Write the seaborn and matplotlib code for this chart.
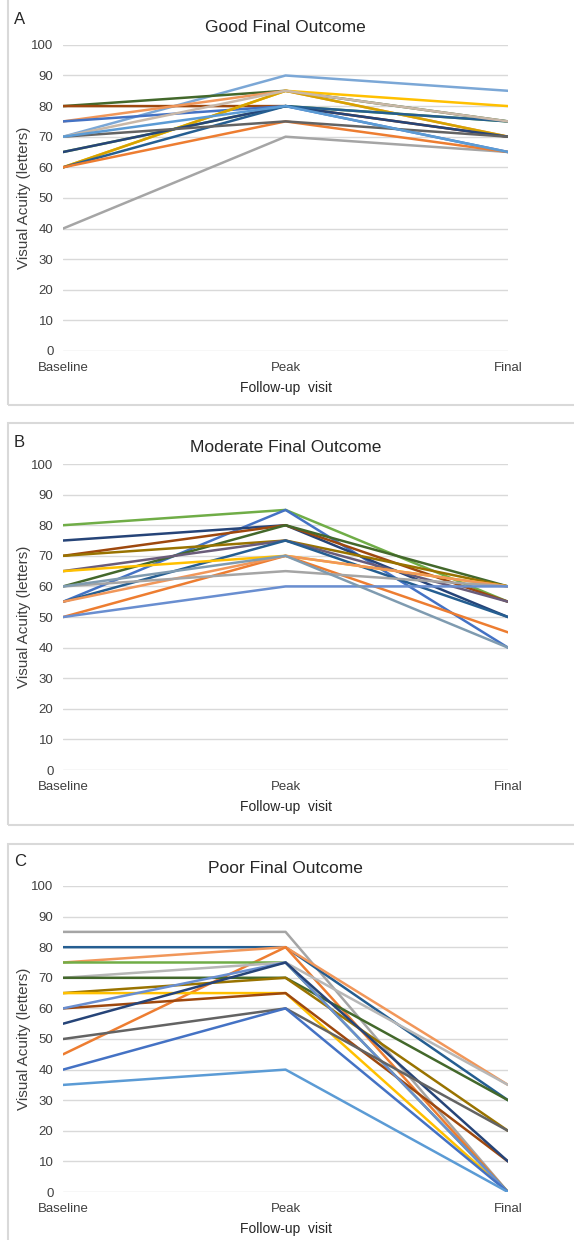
import pandas as pd
import matplotlib.pyplot as plt
import seaborn as sns
from matplotlib.patches import Rectangle

visits = ["Baseline", "Peak", "Final"]

# visual acuity (letters) per eye: baseline, peak, final
good_values = [
    [40, 70, 65], [70, 90, 85], [80, 85, 75], [80, 80, 70], [75, 85, 70],
    [75, 80, 65], [60, 85, 80], [60, 85, 70], [65, 80, 75], [65, 80, 70],
    [60, 80, 75], [60, 75, 65], [70, 75, 70], [70, 85, 75], [70, 80, 65],
]
good_colors = ["#A5A5A5", "#7BA7D6", "#43682B", "#9E480E", "#F1975A",
               "#4472C4", "#FFC000", "#D6A300", "#70AD47", "#264478",
               "#255E91", "#ED7D31", "#636363", "#C9B8A8", "#5B9BD5"]

moderate_values = [
    [80, 85, 55], [55, 85, 40], [75, 80, 50], [70, 80, 55], [60, 80, 60],
    [70, 75, 60], [65, 75, 55], [55, 75, 50], [65, 70, 60], [50, 70, 45],
    [55, 70, 60], [60, 65, 60], [50, 60, 60], [60, 70, 40],
]
moderate_colors = ["#70AD47", "#4472C4", "#264478", "#9E480E", "#43682B",
                   "#997300", "#6A5C7A", "#255E91", "#FFC000", "#ED7D31",
                   "#F1975A", "#A5A5A5", "#698ED0", "#7F9BB0"]

poor_values = [
    [85, 85, 0], [80, 80, 30], [75, 80, 35], [45, 80, 0], [75, 75, 0],
    [70, 75, 35], [70, 70, 30], [65, 70, 20], [65, 65, 0], [60, 65, 10],
    [60, 75, 0], [55, 75, 10], [50, 60, 20], [40, 60, 0], [35, 40, 0],
]
poor_colors = ["#A5A5A5", "#255E91", "#F1975A", "#ED7D31", "#70AD47",
               "#B7B7B7", "#43682B", "#997300", "#FFC000", "#9E480E",
               "#698ED0", "#264478", "#636363", "#4472C4", "#5B9BD5"]

panels = [
    ("A", "Good Final Outcome", good_values, good_colors, 0.717, 20),
    ("B", "Moderate Final Outcome", moderate_values, moderate_colors, 0.379, 443),
    ("C", "Poor Final Outcome", poor_values, poor_colors, 0.0387, 862),
]

# panel frames (top, bottom) in pixels from the top
frames = [(-5, 405), (423, 825), (844, 1250)]


def to_long(values):
    rows = []
    for i, vals in enumerate(values):
        for visit, v in zip(visits, vals):
            rows.append({"eye": i, "Visit": visit, "VA": v})
    return pd.DataFrame(rows)


sns.set_style("white")
plt.rcParams["font.family"] = ["Liberation Sans", "DejaVu Sans"]

fig = plt.figure(figsize=(5.74, 12.40), dpi=100)
W, H = 574, 1240

for (top, bot) in frames:
    fig.patches.append(Rectangle((8 / W, 1 - bot / H), 1.0, (bot - top) / H,
                                 transform=fig.transFigure, fill=False,
                                 edgecolor="#D9D9D9", linewidth=1.5))

for letter, title, values, colors, y0, letter_y in panels:
    ax = fig.add_axes([0.110, y0, 0.775, 0.2468])
    df = to_long(values)
    sns.lineplot(data=df, x="Visit", y="VA", hue="eye", palette=colors,
                 sort=False, legend=False, linewidth=1.8, ax=ax)
    ax.set_xlim(0, 2)
    ax.set_ylim(0, 100)
    ax.set_yticks(range(0, 101, 10))
    ax.set_xticks([0, 1, 2])
    ax.set_xticklabels(visits)
    ax.grid(axis="y", color="#D9D9D9", linewidth=1)
    ax.set_axisbelow(True)
    for s in ax.spines.values():
        s.set_visible(False)
    ax.tick_params(axis="both", length=0, labelsize=9.5, colors="#404040")
    ax.tick_params(axis="y", pad=7)
    ax.tick_params(axis="x", pad=8)
    ax.set_xlabel("Follow-up  visit", fontsize=10, color="#262626", labelpad=5)
    ax.set_ylabel("Visual Acuity (letters)", fontsize=11, color="#404040")
    ax.yaxis.set_label_coords(-0.072, 0.5)
    ax.set_title(title, fontsize=12.5, color="#262626", pad=9)
    fig.text(14 / W, 1 - letter_y / H, letter, fontsize=12, color="#262626",
             va="center", ha="left")

fig.savefig("out.png", dpi=100, facecolor="white")
